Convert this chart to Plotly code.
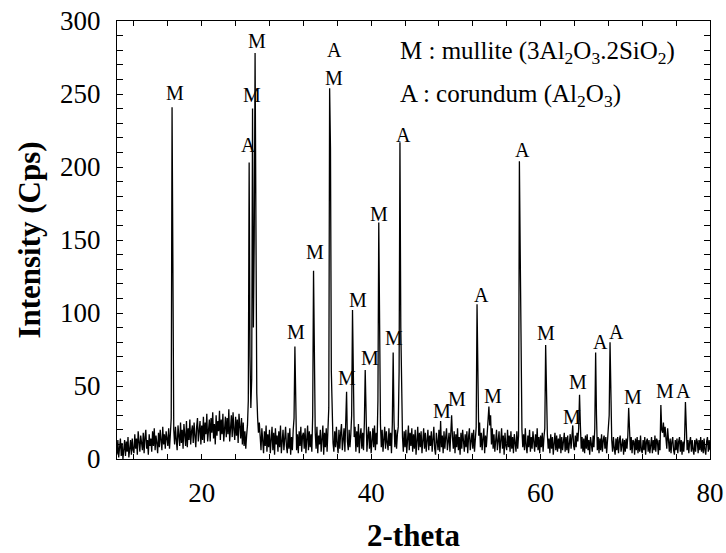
import numpy as np
import plotly.graph_objects as go

# ---- data ----
two_theta_start = 10.0
two_theta_step = 0.1
intensity = [
    3, 13, 1, 10, 14, 2, 11, 0, 9, 13,
    2, 12, 5, 15, 1, 10, 13, 3, 14, 6,
    4, 17, 7, 14, 3, 19, 9, 5, 16, 10,
    6, 18, 4, 15, 20, 7, 13, 3, 17, 9,
    14, 5, 19, 9, 21, 6, 16, 11, 4, 18,
    8, 20, 13, 6, 22, 10, 17, 7, 19, 12,
    9, 21, 7, 17, 28, 241, 55, 20, 10, 22,
    13, 6, 23, 16, 9, 25, 11, 20, 7, 24,
    15, 9, 26, 8, 21, 13, 27, 10, 19, 23,
    11, 25, 16, 8, 22, 28, 12, 20, 26, 10,
    23, 13, 29, 11, 25, 17, 31, 12, 22, 27,
    12, 28, 18, 32, 14, 24, 10, 30, 16, 26,
    19, 33, 13, 27, 17, 31, 12, 25, 29, 15,
    28, 17, 34, 12, 26, 30, 15, 32, 20, 13,
    29, 16, 27, 11, 31, 20, 14, 28, 10, 25,
    9, 19, 7, 16, 23, 40, 203, 70, 35, 55,
    240, 90, 150, 278, 120, 45, 28, 18, 25, 13,
    6, 21, 12, 4, 19, 9, 23, 5, 17, 8,
    20, 4, 13, 22, 6, 18, 3, 21, 10, 16,
    5, 19, 8, 23, 4, 17, 20, 6, 14, 22,
    9, 4, 18, 7, 21, 3, 15, 6, 20, 28,
    77, 24, 6, 17, 4, 19, 9, 22, 5, 16,
    18, 7, 21, 4, 15, 23, 6, 19, 8, 17,
    5, 30, 129, 40, 18, 7, 22, 4, 16, 10,
    20, 5, 15, 23, 3, 18, 8, 21, 5, 17,
    35, 254, 213, 60, 24, 11, 5, 19, 8, 22,
    10, 4, 20, 7, 18, 24, 6, 15, 21, 5,
    22, 46, 12, 6, 20, 8, 17, 30, 102, 35,
    15, 22, 5, 19, 8, 24, 4, 16, 21, 7,
    18, 6, 25, 61, 20, 5, 15, 22, 7, 19,
    4, 17, 21, 8, 23, 6, 18, 10, 40, 162,
    55, 24, 8, 20, 5, 16, 22, 7, 19, 11,
    6, 21, 9, 18, 4, 24, 73, 26, 8, 20,
    7, 17, 22, 60, 217, 90, 32, 15, 5, 19,
    8, 20, 4, 15, 23, 6, 18, 9, 21, 5,
    17, 7, 20, 3, 14, 22, 6, 18, 8, 19,
    4, 15, 21, 7, 18, 5, 14, 20, 6, 16,
    9, 19, 5, 15, 22, 7, 3, 18, 10, 6,
    20, 5, 26, 8, 16, 4, 19, 7, 15, 21,
    6, 14, 18, 5, 20, 30, 15, 7, 19, 4,
    17, 8, 21, 6, 15, 3, 18, 7, 20, 10,
    5, 17, 8, 19, 4, 15, 21, 6, 14, 18,
    7, 20, 5, 15, 22, 106, 40, 16, 25, 8,
    18, 6, 14, 21, 4, 16, 8, 19, 26, 36,
    23, 30, 10, 21, 7, 17, 5, 14, 20, 6,
    15, 19, 4, 13, 21, 7, 16, 3, 18, 9,
    6, 20, 8, 16, 5, 19, 7, 15, 4, 17,
    10, 5, 19, 7, 16, 204, 140, 45, 20, 8,
    17, 6, 21, 9, 4, 16, 8, 20, 5, 15,
    7, 19, 9, 5, 17, 8, 21, 6, 15, 4,
    16, 8, 18, 5, 15, 21, 78, 40, 17, 7,
    14, 4, 17, 7, 15, 3, 13, 18, 6, 16,
    5, 14, 7, 17, 4, 15, 6, 13, 18, 5,
    15, 6, 16, 4, 13, 17, 7, 19, 23, 9,
    6, 16, 8, 18, 12, 21, 44, 23, 7, 15,
    5, 14, 4, 16, 7, 17, 6, 13, 3, 15,
    7, 5, 16, 8, 21, 73, 30, 6, 15, 4,
    14, 6, 17, 5, 13, 16, 7, 15, 4, 13,
    17, 30, 80, 35, 13, 5, 15, 7, 3, 14,
    6, 15, 4, 13, 16, 5, 12, 14, 3, 13,
    5, 14, 7, 16, 35, 19, 6, 15, 4, 13,
    12, 3, 14, 6, 15, 4, 13, 5, 16, 6,
    4, 13, 6, 15, 3, 12, 14, 5, 13, 4,
    12, 15, 4, 13, 6, 16, 5, 14, 12, 3,
    13, 6, 37, 20, 18, 25, 15, 22, 14, 7,
    21, 13, 5, 14, 4, 12, 15, 6, 3, 13,
    6, 14, 4, 12, 15, 5, 13, 3, 12, 5,
    14, 39, 19, 6, 13, 4, 12, 15, 5, 13,
    6, 3, 13, 5, 14, 12, 4, 13, 6, 15,
    5, 13, 4, 14, 6, 3, 12, 15, 5, 13,
    6,
]

peak_labels = ["M", "A", "M", "M", "M", "M", "A", "M", "M", "M", "M", "M", "M", "A",
               "M", "M", "A", "M", "A", "M", "M", "M", "A", "A", "M", "M", "A"]
label_2theta = [16.9, 25.51, 25.98, 26.53, 31.17, 33.41, 35.69, 35.65, 37.15, 38.40,
                39.90, 40.88, 42.65, 43.82, 48.35, 50.12, 52.99, 54.37, 57.86, 60.65,
                63.68, 64.46, 67.02, 69.0, 70.95, 74.69, 76.93]
label_intensity = [250.8, 215.4, 249, 286.6, 86.8, 141.6, 280.3, 260.8, 55.6, 109,
                   69.3, 167.9, 83, 221.6, 33.2, 41.2, 112, 43, 211.8, 86.4,
                   28.6, 52.6, 80, 86.8, 42.8, 46.9, 46.9]

key_lines = ["M : mullite (3Al<sub>2</sub>O<sub>3</sub>.2SiO<sub>2</sub>)",
             "A : corundum (Al<sub>2</sub>O<sub>3</sub>)"]
key_2theta = [43.2, 43.2]
key_intensity = [278.4, 249.0]

x_ticks = [20, 40, 60, 80]
y_ticks = [0, 50, 100, 150, 200, 250, 300]

two_theta = two_theta_start + two_theta_step * np.arange(len(intensity))

FONT = "Liberation Serif, Times New Roman, serif"

fig = go.Figure()
fig.add_trace(go.Scatter(x=two_theta, y=intensity, mode="lines",
                         line=dict(color="black", width=1.3), showlegend=False,
                         hoverinfo="skip"))

for lab, lx, ly in zip(peak_labels, label_2theta, label_intensity):
    fig.add_annotation(x=lx, y=ly, text=lab, showarrow=False, xanchor="center",
                       yanchor="middle", font=dict(family=FONT, size=20, color="black"))

for txt, kx, ky in zip(key_lines, key_2theta, key_intensity):
    fig.add_annotation(x=kx, y=ky, text=txt, showarrow=False, xanchor="left",
                       yanchor="middle", font=dict(family=FONT, size=25, color="black"))

axis_common = dict(showline=True, linecolor="black", linewidth=1, mirror="ticks",
                   ticks="inside", tickcolor="black", showgrid=False, zeroline=False,
                   tickfont=dict(family=FONT, size=27, color="black"))

fig.update_xaxes(range=[10, 80], tickvals=x_ticks, ticktext=[str(v) for v in x_ticks],
                 ticklen=5, ticklabelstandoff=10,
                 minor=dict(dtick=4, tick0=0, ticks="inside", ticklen=5, tickcolor="black"),
                 title=dict(text="2-theta",
                            font=dict(family=FONT, size=31, color="black", weight="bold"),
                            standoff=16),
                 **axis_common)
fig.update_yaxes(range=[0, 300], tickvals=y_ticks, ticktext=[str(v) for v in y_ticks],
                 ticklen=6, ticklabelstandoff=10,
                 minor=dict(dtick=10, tick0=0, ticks="inside", ticklen=6, tickcolor="black"),
                 title=dict(text="Intensity (Cps)",
                            font=dict(family=FONT, size=31, color="black", weight="bold"),
                            standoff=10),
                 **axis_common)

fig.update_layout(width=726, height=553, margin=dict(l=117, r=16, t=21, b=94, autoexpand=False),
                  plot_bgcolor="white", paper_bgcolor="white",
                  font=dict(family=FONT, color="black"))

fig.write_html("out.html")
